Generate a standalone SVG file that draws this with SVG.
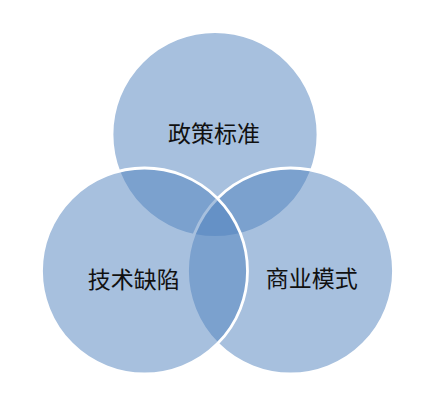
<svg xmlns="http://www.w3.org/2000/svg" width="434" height="406" viewBox="0 0 434 406">
<style>
.c{fill:#4F81BD;fill-opacity:0.5;stroke:#FFFFFF;stroke-width:2.8}
.t{font-family:"Noto Sans CJK SC","Noto Sans",sans-serif;font-size:23px;fill:#111111;text-anchor:middle;dominant-baseline:central}
</style>
<rect width="434" height="406" fill="#FFFFFF"/>
<g id="policy"><circle class="c" cx="215" cy="134.5" r="103"/></g>
<g id="business"><circle class="c" cx="290.5" cy="271" r="103"/></g>
<g id="tech"><circle class="c" cx="144.5" cy="271" r="103"/></g>
<g id="connectors"></g>
<g id="labels">
<text class="t" x="214" y="132">政策标准</text>
<text class="t" x="133.7" y="277.5">技术缺陷</text>
<text class="t" x="311.7" y="277">商业模式</text>
</g>
</svg>
